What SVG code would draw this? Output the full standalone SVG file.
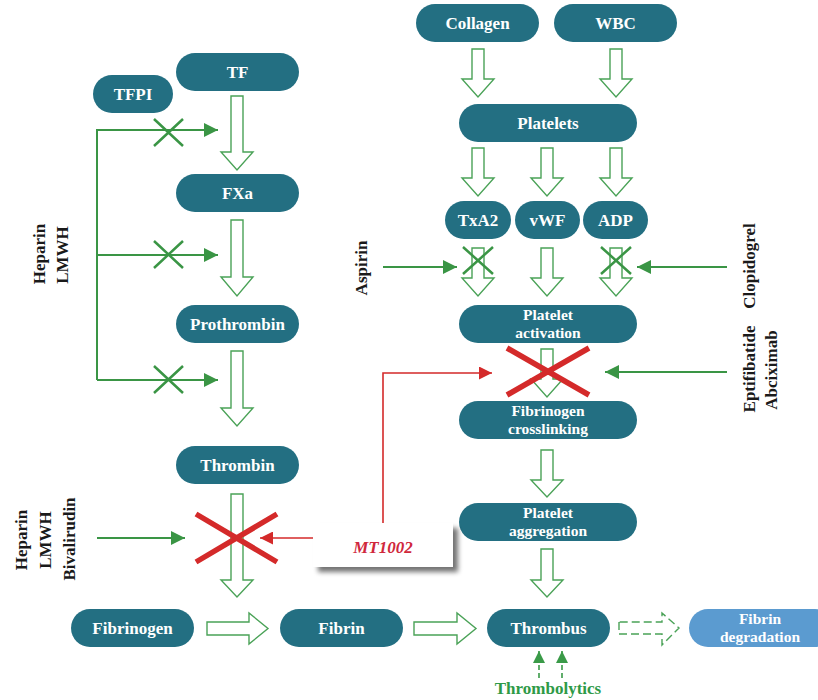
<svg xmlns="http://www.w3.org/2000/svg" width="818" height="700" viewBox="0 0 818 700">
<style>
.n{fill:#236F82}
.nl{fill:#5B9BD0}
.t{font-family:"Liberation Serif","DejaVu Serif",serif;font-weight:bold;font-size:17px;fill:#fff;text-anchor:middle}
.t2{font-family:"Liberation Serif","DejaVu Serif",serif;font-weight:bold;font-size:15.5px;fill:#fff;text-anchor:middle}
.lab{font-family:"Liberation Serif","DejaVu Serif",serif;font-weight:bold;font-size:17px;fill:#1a1a1a;text-anchor:middle}
.ha{fill:#fff;stroke:#4AA257;stroke-width:1.4}
.hd{fill:#fff;stroke:#4AA257;stroke-width:1.4;stroke-dasharray:8,4}
.gl{fill:none;stroke:#3A9545;stroke-width:2}
.gx{stroke:#3A9545;stroke-width:2.5}
.rx{stroke:#D42A2A;stroke-width:5.5}
.rl{fill:none;stroke:#D42A2A;stroke-width:1.6}
</style>
<defs>
<marker id="gam" viewBox="0 0 10 10" refX="10" refY="5" markerWidth="14" markerHeight="14" orient="auto" markerUnits="userSpaceOnUse"><path d="M0,0 L10,5 L0,10 Z" fill="#3A9545"/></marker>
<marker id="ra" viewBox="0 0 10 10" refX="10" refY="5" markerWidth="13" markerHeight="13" orient="auto" markerUnits="userSpaceOnUse"><path d="M0,0 L10,5 L0,10 Z" fill="#D42A2A"/></marker>
<marker id="gd" viewBox="0 0 10 10" refX="10" refY="5" markerWidth="12" markerHeight="12" orient="auto" markerUnits="userSpaceOnUse"><path d="M0,0 L10,5 L0,10 Z" fill="#3A9A48"/></marker>
<filter id="sh" x="-20%" y="-20%" width="150%" height="160%"><feGaussianBlur in="SourceAlpha" stdDeviation="2.5"/><feOffset dx="5" dy="5"/><feComponentTransfer><feFuncA type="linear" slope="0.55"/></feComponentTransfer><feMerge><feMergeNode/><feMergeNode in="SourceGraphic"/></feMerge></filter>
</defs>

<g id="connectors">
<path class="ha" d="M231,96 H243 V152 H253 L237,170 L221,152 H231 Z"/>
<path class="ha" d="M231,220 H243 V277 H253 L237,296 L221,277 H231 Z"/>
<path class="ha" d="M231,351 H243 V408 H253 L237,426 L221,408 H231 Z"/>
<path class="ha" d="M231,494 H243 V580 H253 L237,597 L221,580 H231 Z"/>
<path class="ha" d="M472,49 H484 V79 H494 L478,97 L462,79 H472 Z"/>
<path class="ha" d="M610,49 H622 V79 H632 L616,97 L600,79 H610 Z"/>
<path class="ha" d="M472,148 H484 V178 H494 L478,196 L462,178 H472 Z"/>
<path class="ha" d="M541,148 H553 V178 H563 L547,196 L531,178 H541 Z"/>
<path class="ha" d="M610,148 H622 V178 H632 L616,196 L600,178 H610 Z"/>
<path class="ha" d="M472,248 H484 V278 H494 L478,296 L462,278 H472 Z"/>
<path class="ha" d="M541,248 H553 V278 H563 L547,296 L531,278 H541 Z"/>
<path class="ha" d="M610,248 H622 V278 H632 L616,296 L600,278 H610 Z"/>
<path class="ha" d="M541,349 H553 V379 H563 L547,397 L531,379 H541 Z"/>
<path class="ha" d="M541,450 H553 V480 H563 L547,497 L531,480 H541 Z"/>
<path class="ha" d="M541,549 H553 V580 H563 L547,597 L531,580 H541 Z"/>
<path class="ha" d="M207,622 V635 H249 V644 L268,628.5 L249,613 V622 Z"/>
<path class="ha" d="M414,622 V635 H457 V644 L476,628.5 L457,613 V622 Z"/>
<path class="hd" d="M619,622 V634 H662 V645 L679,628 L662,613 V622 Z"/>

<path class="gl" d="M97,380 V130 H218" marker-end="url(#gam)"/>
<path class="gl" d="M97,255 H218" marker-end="url(#gam)"/>
<path class="gl" d="M97,380 H218" marker-end="url(#gam)"/>
<path class="gx" d="M154,119 L183,146 M183,119 L154,146"/>
<path class="gx" d="M154,241 L183,268 M183,241 L154,268"/>
<path class="gx" d="M154,366 L183,393 M183,366 L154,393"/>

<path class="gl" d="M97,538 H185" marker-end="url(#gam)"/>
<path class="rx" d="M196,514 L277,562 M277,514 L196,562"/>
<path class="rl" d="M313,538 H260" marker-end="url(#ra)"/>

<path class="rl" d="M383,523 V373 H492" marker-end="url(#ra)"/>
<path class="rx" d="M507,348 L589,395 M589,348 L507,395"/>
<path class="gl" d="M727,372 H605" marker-end="url(#gam)"/>

<path class="gl" d="M383,267 H457" marker-end="url(#gam)"/>
<path class="gl" d="M727,267 H637" marker-end="url(#gam)"/>
<path class="gx" d="M463,247 L493,274 M493,247 L463,274"/>
<path class="gx" d="M601,247 L631,274 M631,247 L601,274"/>

<path fill="none" stroke="#3A9A48" stroke-width="1.6" stroke-dasharray="5,3" d="M539,678 V651" marker-end="url(#gd)"/>
<path fill="none" stroke="#3A9A48" stroke-width="1.6" stroke-dasharray="5,3" d="M562,678 V651" marker-end="url(#gd)"/>
</g>

<g id="TF"><rect class="n" x="176" y="53" width="123" height="38" rx="19"/><text class="t" x="237.5" y="78">TF</text></g>
<g id="TFPI"><rect class="n" x="93" y="75" width="80" height="38" rx="19"/><text class="t" x="133" y="100">TFPI</text></g>
<g id="FXa"><rect class="n" x="176" y="174" width="123" height="38" rx="19"/><text class="t" x="237.5" y="199">FXa</text></g>
<g id="Prothrombin"><rect class="n" x="176" y="305" width="123" height="38" rx="19"/><text class="t" x="237.5" y="330">Prothrombin</text></g>
<g id="Thrombin"><rect class="n" x="176" y="446" width="123" height="38" rx="19"/><text class="t" x="237.5" y="471">Thrombin</text></g>
<g id="Collagen"><rect class="n" x="416" y="4" width="123" height="38" rx="19"/><text class="t" x="477.5" y="29">Collagen</text></g>
<g id="WBC"><rect class="n" x="554" y="4" width="123" height="38" rx="19"/><text class="t" x="615.5" y="29">WBC</text></g>
<g id="Platelets"><rect class="n" x="459" y="104" width="178" height="38" rx="19"/><text class="t" x="548" y="129">Platelets</text></g>
<g id="TxA2"><rect class="n" x="445" y="201" width="66" height="38" rx="19"/><text class="t" x="478" y="226">TxA2</text></g>
<g id="vWF"><rect class="n" x="515" y="201" width="65" height="38" rx="19"/><text class="t" x="547.5" y="226">vWF</text></g>
<g id="ADP"><rect class="n" x="583" y="201" width="65" height="38" rx="19"/><text class="t" x="615.5" y="226">ADP</text></g>
<g id="PlateletActivation"><rect class="n" x="459" y="305" width="178" height="38" rx="19"/><text class="t2" x="548" y="320">Platelet</text><text class="t2" x="548" y="338">activation</text></g>
<g id="FibrinogenCrosslinking"><rect class="n" x="459" y="401" width="178" height="38" rx="19"/><text class="t2" x="548" y="416">Fibrinogen</text><text class="t2" x="548" y="434">crosslinking</text></g>
<g id="PlateletAggregation"><rect class="n" x="459" y="503" width="178" height="38" rx="19"/><text class="t2" x="548" y="518">Platelet</text><text class="t2" x="548" y="536">aggregation</text></g>
<g id="Fibrinogen"><rect class="n" x="71" y="609" width="123" height="38" rx="19"/><text class="t" x="132.5" y="634">Fibrinogen</text></g>
<g id="Fibrin"><rect class="n" x="280" y="609" width="123" height="38" rx="19"/><text class="t" x="341.5" y="634">Fibrin</text></g>
<g id="Thrombus"><rect class="n" x="487" y="609" width="123" height="38" rx="19"/><text class="t" x="548.5" y="634">Thrombus</text></g>
<g id="FibrinDegradation"><rect class="nl" x="689" y="609" width="145" height="38" rx="19"/><text class="t2" x="760" y="624">Fibrin</text><text class="t2" x="760" y="642">degradation</text></g>

<g id="MT1002"><rect x="313" y="523" width="140" height="44" fill="#fff" filter="url(#sh)"/><text x="383" y="553" font-family="Liberation Serif, DejaVu Serif, serif" font-style="italic" font-weight="bold" font-size="17" fill="#D0283C" text-anchor="middle">MT1002</text></g>

<g id="labels">
<text class="lab" transform="translate(45,254) rotate(-90)">Heparin</text>
<text class="lab" transform="translate(68,255) rotate(-90)">LMWH</text>
<text class="lab" transform="translate(27,540) rotate(-90)">Heparin</text>
<text class="lab" transform="translate(51,540) rotate(-90)">LMWH</text>
<text class="lab" transform="translate(75,539) rotate(-90)">Bivalirudin</text>
<text class="lab" transform="translate(367,268) rotate(-90)">Aspirin</text>
<text class="lab" transform="translate(755,266) rotate(-90)">Clopidogrel</text>
<text class="lab" transform="translate(755,369) rotate(-90)">Eptifibatide</text>
<text class="lab" transform="translate(777,370) rotate(-90)">Abciximab</text>
<text x="548" y="694" font-family="Liberation Serif, DejaVu Serif, serif" font-weight="bold" font-size="17" fill="#2E9A47" text-anchor="middle">Thrombolytics</text>
</g>
</svg>
